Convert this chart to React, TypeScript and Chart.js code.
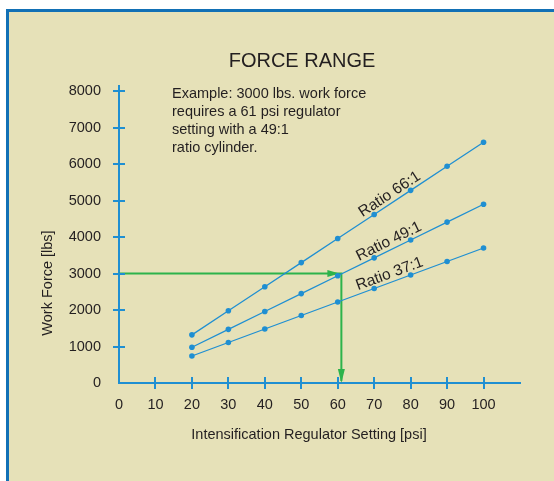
import React, { useEffect, useRef } from "react";
import { Chart, registerables } from "chart.js";

Chart.register(...registerables);

// ---- data ----
const psi = [20, 30, 40, 50, 60, 70, 80, 90, 100];
const ratio66 = [1320, 1980, 2640, 3300, 3960, 4620, 5280, 5940, 6600];
const ratio49 = [980, 1470, 1960, 2450, 2940, 3430, 3920, 4410, 4900];
const ratio37 = [740, 1110, 1480, 1850, 2220, 2590, 2960, 3330, 3700];
const seriesLabels = ["Ratio 66:1", "Ratio 49:1", "Ratio 37:1"];
const xTicks = [0, 10, 20, 30, 40, 50, 60, 70, 80, 90, 100];
const yTicks = [0, 1000, 2000, 3000, 4000, 5000, 6000, 7000, 8000];
const examplePsi = 61;
const exampleForce = 3000;
const titleText = "FORCE RANGE";
const noteLines = [
  "Example: 3000 lbs. work force",
  "requires a 61 psi regulator",
  "setting with a 49:1",
  "ratio cylinder.",
];
const xTitle = "Intensification Regulator Setting [psi]";
const yTitle = "Work Force [lbs]";

// ---- styles ----
const FONT = "'Liberation Sans', Arial, sans-serif";
const TEXT = "#231f20";
const BLUE = "#1f8fd2";
const GREEN = "#2db34b";
const PANEL = "#e6e1b8";
const FRAME = "#1270b5";

const decorPlugin = {
  id: "decor",
  beforeDraw(chart: any) {
    const { ctx, width, height } = chart;
    ctx.save();
    ctx.fillStyle = "#ffffff";
    ctx.fillRect(0, 0, width, height);
    ctx.fillStyle = PANEL;
    ctx.fillRect(8, 12, width - 8, height - 12);
    ctx.fillStyle = FRAME;
    ctx.fillRect(6, 9, width - 6, 3);
    ctx.fillRect(6, 9, 3, height - 9);

    // title
    ctx.fillStyle = TEXT;
    ctx.font = `20px ${FONT}`;
    ctx.textAlign = "center";
    ctx.textBaseline = "alphabetic";
    ctx.fillText(titleText, 302, 67);

    // note
    ctx.font = `14.5px ${FONT}`;
    ctx.textAlign = "left";
    noteLines.forEach((l, i) => ctx.fillText(l, 172, 98 + i * 18.1));

    // axis titles
    ctx.textAlign = "center";
    ctx.fillText(xTitle, 309, 439);
    ctx.save();
    ctx.translate(52, 283);
    ctx.rotate(-Math.PI / 2);
    ctx.fillText(yTitle, 0, 0);
    ctx.restore();
    ctx.restore();
  },
  beforeDatasetsDraw(chart: any) {
    const { ctx, scales } = chart;
    const x = scales.x, y = scales.y;
    const x0 = x.getPixelForValue(0);
    const xe = x.getPixelForValue(examplePsi);
    const yf = y.getPixelForValue(exampleForce);
    const y0 = y.getPixelForValue(0);
    ctx.save();
    ctx.strokeStyle = GREEN;
    ctx.fillStyle = GREEN;
    ctx.lineWidth = 2;
    ctx.beginPath();
    ctx.moveTo(x0, yf);
    ctx.lineTo(xe + 1, yf);
    ctx.moveTo(xe, yf);
    ctx.lineTo(xe, y0 - 2);
    ctx.stroke();
    // right arrow
    const tipX = xe - 2;
    ctx.beginPath();
    ctx.moveTo(tipX, yf);
    ctx.lineTo(tipX - 12, yf - 3.5);
    ctx.lineTo(tipX - 12, yf + 3.5);
    ctx.closePath();
    ctx.fill();
    // down arrow
    ctx.beginPath();
    ctx.moveTo(xe, y0);
    ctx.lineTo(xe - 3.5, y0 - 14);
    ctx.lineTo(xe + 3.5, y0 - 14);
    ctx.closePath();
    ctx.fill();
    ctx.restore();
  },
  afterDraw(chart: any) {
    const { ctx, scales, chartArea } = chart;
    const x = scales.x, y = scales.y;
    ctx.save();
    ctx.strokeStyle = BLUE;
    ctx.lineWidth = 2;
    ctx.beginPath();
    yTicks.forEach((v) => {
      if (v === 0) return;
      const py = Math.round(y.getPixelForValue(v));
      ctx.moveTo(chartArea.left - 6, py);
      ctx.lineTo(chartArea.left + 6, py);
    });
    xTicks.forEach((v) => {
      if (v === 0) return;
      const px = Math.round(x.getPixelForValue(v));
      ctx.moveTo(px, chartArea.bottom - 6);
      ctx.lineTo(px, chartArea.bottom + 6);
    });
    ctx.stroke();

    // ratio labels along lines
    const series = [ratio66, ratio49, ratio37];
    const anchors = [75.5, 75, 75];
    ctx.fillStyle = TEXT;
    ctx.font = `15.5px ${FONT}`;
    ctx.textAlign = "center";
    ctx.textBaseline = "alphabetic";
    series.forEach((vals, i) => {
      const p1x = x.getPixelForValue(psi[0]);
      const p1y = y.getPixelForValue(vals[0]);
      const p2x = x.getPixelForValue(psi[psi.length - 1]);
      const p2y = y.getPixelForValue(vals[vals.length - 1]);
      const ang = Math.atan2(p2y - p1y, p2x - p1x);
      const t = (anchors[i] - psi[0]) / (psi[psi.length - 1] - psi[0]);
      const ax = p1x + (p2x - p1x) * t;
      const ay = p1y + (p2y - p1y) * t;
      ctx.save();
      ctx.translate(ax, ay);
      ctx.rotate(ang);
      ctx.fillText(seriesLabels[i], 0, -4);
      ctx.restore();
    });
    ctx.restore();
  },
};

export default function App() {
  const ref = useRef<HTMLCanvasElement>(null);
  useEffect(() => {
    if (!ref.current) return;
    const mk = (vals: number[]) => psi.map((p, i) => ({ x: p, y: vals[i] }));
    const ds = (label: string, vals: number[]) => ({
      label,
      data: mk(vals),
      borderColor: BLUE,
      backgroundColor: BLUE,
      borderWidth: 1.3,
      pointRadius: 2.8,
      pointBorderWidth: 0,
      pointBackgroundColor: BLUE,
      fill: false,
      tension: 0,
    });
    const chart = new Chart(ref.current, {
      type: "line",
      data: {
        datasets: [
          ds(seriesLabels[0], ratio66),
          ds(seriesLabels[1], ratio49),
          ds(seriesLabels[2], ratio37),
        ],
      },
      options: {
        responsive: false,
        animation: false,
        devicePixelRatio: 1,
        layout: { padding: { left: 0, top: 86, right: 34, bottom: 0 } },
        plugins: {
          legend: { display: false },
          tooltip: { enabled: false },
          title: { display: false },
        },
        scales: {
          x: {
            type: "linear",
            min: 0,
            max: 110,
            afterBuildTicks: (s: any) => {
              s.ticks = xTicks.map((v) => ({ value: v }));
            },
            afterFit: (s: any) => {
              s.height = 98;
            },
            grid: { display: false, drawTicks: false },
            border: { display: true, color: BLUE, width: 2 },
            ticks: {
              padding: 13,
              color: TEXT,
              font: { family: FONT, size: 14.5 },
              maxRotation: 0,
              autoSkip: false,
              callback: (v: any) => String(v),
            },
          },
          y: {
            type: "linear",
            min: 0,
            max: 8140,
            afterBuildTicks: (s: any) => {
              s.ticks = yTicks.map((v) => ({ value: v }));
            },
            afterFit: (s: any) => {
              s.width = 119;
            },
            grid: { display: false, drawTicks: false },
            border: { display: true, color: BLUE, width: 2 },
            ticks: {
              padding: 18,
              color: TEXT,
              font: { family: FONT, size: 14.5 },
              autoSkip: false,
              callback: (v: any) => String(v),
            },
          },
        },
      },
      plugins: [decorPlugin],
    } as any);
    return () => chart.destroy();
  }, []);
  return (
    <div style={{ position: "fixed", left: 0, top: 0, width: 554, height: 481 }}>
      <canvas ref={ref} width={554} height={481} style={{ width: 554, height: 481, display: "block" }} />
    </div>
  );
}
